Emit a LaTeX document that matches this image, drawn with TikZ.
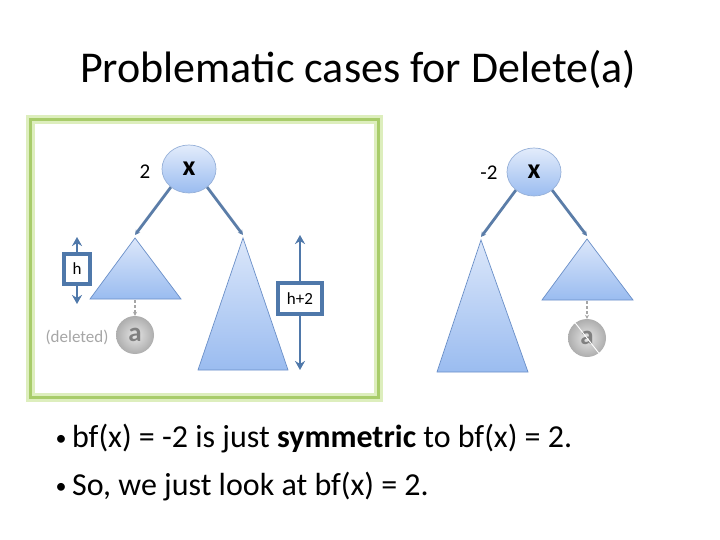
\documentclass[tikz,border=0pt]{standalone}
\usepackage{fontspec}
\setmainfont{Carlito}
\usetikzlibrary{arrows.meta,shapes.geometric,calc}
\definecolor{edgec}{HTML}{5B7DA8}
\definecolor{dimc}{HTML}{4F78AA}
\definecolor{tritop}{HTML}{DCE7FA}
\definecolor{tribot}{HTML}{9ABCF0}
\definecolor{tribord}{HTML}{6A8FC8}
\definecolor{greenf}{HTML}{A8CC6A}
\definecolor{greeng}{HTML}{DDEEBD}
\definecolor{grayc}{HTML}{A6A6A6}
\tikzset{
  tri/.style={top color=tritop, bottom color=tribot, draw=tribord, line width=0.7},
  tnode/.style={ellipse, minimum width=54, minimum height=48, inner sep=0,
    top color=tritop!80!white, bottom color=tribot, draw=tribord!70, line width=0.7,
    font=\fontsize{28}{30}\selectfont\bfseries},
  anode/.style={circle, minimum size=38, inner sep=0, shading=radial,
    inner color=black!10, outer color=black!32, draw=none,
    text=black!50, font=\fontsize{27}{29}\selectfont\bfseries},
  edgearrow/.style={draw=edgec, line width=2.8, -{Stealth[length=5,width=5]}},
  dasharrow/.style={draw=grayc, line width=2, dashed, dash pattern=on 3 off 2, -{Stealth[length=4,width=4]}},
  dimarrow/.style={draw=dimc, line width=2.8, {Stealth[length=9,width=10]}-{Stealth[length=9,width=10]}},
  dimbox/.style={draw=dimc, line width=3.2, fill=white, inner sep=0, font=\fontsize{17}{19}\selectfont},
  bflabel/.style={font=\fontsize{21}{23}\selectfont},
  bullet/.style={font=\fontsize{32}{36}\selectfont, anchor=base west, inner sep=0},
  bulletdot/.style={font=\fontsize{22}{24}\selectfont, anchor=base, inner sep=0},
}
\begin{document}
\begin{tikzpicture}[x=1pt,y=-1pt]
\useasboundingbox (0,0) rectangle (720,540);
\fill[white] (0,0) rectangle (720,540);

\node[font=\fontsize{44}{50}\selectfont, anchor=base] (title) at (358,83) {Problematic cases for Delete(a)};

% green frame
\draw[greeng, line width=9] (30,120) rectangle (378,397);
\draw[greenf, line width=3] (30,120) rectangle (378,397);

% ---- left tree
\node[tnode] (x1) at (189,169) {x};
\node[bflabel] (l1) at (145,172) {2};
\coordinate (lt1) at (135,238);
\coordinate (rt1) at (243,238);
\shade[tri] (lt1) -- (90,299) -- (181,299) -- cycle;
\shade[tri] (rt1) -- (198,370) -- (288,370) -- cycle;
\draw[edgearrow] (x1.225) -- ($(lt1)+(0,-3)$);
\draw[edgearrow] (x1.-45) -- ($(rt1)+(0,-3)$);
\coordinate (lb1) at (135,300);
\node[anode] (a1) at (135,335) {a};
\draw[dasharrow] (lb1) -- (a1.north);
\node[font=\fontsize{17}{19}\selectfont, text=grayc] (del) at (77,337) {(deleted)};

\coordinate (ht) at (77,237);
\coordinate (hb) at (77,304);
\draw[dimarrow] (ht) -- (hb);
\node[dimbox, minimum width=26, minimum height=30] (hbox) at (77,269) {h};

\coordinate (h2t) at (300,235);
\coordinate (h2b) at (300,370);
\draw[dimarrow] (h2t) -- (h2b);
\node[dimbox, minimum width=44, minimum height=31] (h2box) at (300,298.5) {h+2};

% ---- right tree
\node[tnode] (x2) at (534,172) {x};
\node[bflabel] (l2) at (489,173) {-2};
\coordinate (lt2) at (481,240);
\coordinate (rt2) at (587,239);
\shade[tri] (lt2) -- (437,372) -- (528,372) -- cycle;
\shade[tri] (rt2) -- (542,300) -- (633,300) -- cycle;
\draw[edgearrow] (x2.225) -- ($(lt2)+(0,-3)$);
\draw[edgearrow] (x2.-45) -- ($(rt2)+(0,-3)$);
\coordinate (rb2) at (587,301);
\node[anode] (a2) at (587,338) {a};
\draw[dasharrow] (rb2) -- (a2.north);
\draw[white, line width=0.9] (a2.128) -- (a2.-52);

% ---- bullets
\node[bulletdot] (b1) at (61,445) {\textbullet};
\node[bullet] (t1) at (72,447) {bf(x) = -2 is just \textbf{symmetric} to bf(x) = 2.};
\node[bulletdot] (b2) at (61,493) {\textbullet};
\node[bullet] (t2) at (72,495) {So, we just look at bf(x) = 2.};
\end{tikzpicture}
\end{document}
